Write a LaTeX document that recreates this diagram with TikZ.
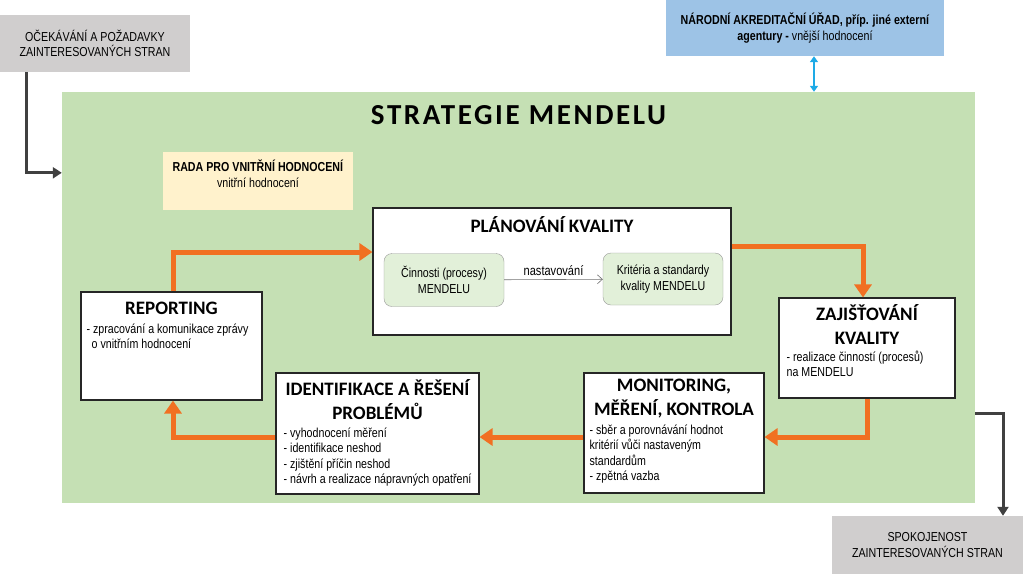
\documentclass[tikz,border=0pt]{standalone}
\usepackage{fontspec}
\setmainfont{Liberation Sans}[FakeStretch=0.82]
\newfontfamily\headfont{Carlito}
\newfontfamily\titlefont{Carlito}[LetterSpace=9]
\usetikzlibrary{arrows.meta, positioning}
\definecolor{boxgrey}{RGB}{208, 206, 206}
\definecolor{naublue}{RGB}{157, 195, 230}
\definecolor{stratgreen}{RGB}{197, 224, 180}
\definecolor{radacream}{RGB}{255, 242, 204}
\definecolor{innergreen}{RGB}{226, 240, 217}
\definecolor{floworange}{RGB}{241, 112, 34}
\definecolor{feedgrey}{RGB}{64, 64, 64}
\definecolor{dualblue}{RGB}{30, 170, 230}
\tikzset{
	outer/.style={fill=boxgrey, minimum width=190pt, minimum height=57pt, align=center, font=\fontsize{13}{15.5}\selectfont},
	stage/.style={draw=black!85, line width=1.1pt, fill=white},
	head/.style={font=\headfont\bfseries\fontsize{19}{24}\selectfont, align=center},
	items/.style={font=\fontsize{13}{15.5}\selectfont, align=left, inner sep=0pt, anchor=north west},
	inner/.style={draw=black!40, fill=innergreen, rounded corners=8pt, minimum width=120pt, minimum height=53pt, align=center, font=\fontsize{13}{15.5}\selectfont},
	flow/.style={draw=floworange, line width=5pt, -{Triangle[length=13pt, width=17pt]}},
	feed/.style={draw=feedgrey, line width=3pt, -{Triangle[length=9pt, width=11pt]}},
	dual/.style={draw=dualblue, line width=2pt, {Triangle[length=6pt, width=8pt]}-{Triangle[length=6pt, width=8pt]}}
}
\begin{document}
\begin{tikzpicture}[x=1pt, y=-1pt]
	\useasboundingbox (0,0) rectangle (1023,574);

	% Frame
	\node (strat) [fill=stratgreen, minimum width=913pt, minimum height=411pt] at (518.5,297.5) {};
	\node (title) [font=\titlefont\bfseries\fontsize{29}{30}\selectfont] at ([yshift=-23pt]strat.north) {STRATEGIE MENDELU};

	% Outside boxes
	\node (expect) [outer] at (95,43.5) {OČEKÁVÁNÍ A POŽADAVKY\\ZAINTERESOVANÝCH STRAN};
	\node (satisf) [outer, minimum width=191pt, minimum height=58pt] at (927.5,545) {SPOKOJENOST\\ZAINTERESOVANÝCH STRAN};
	\node (nau) [outer, fill=naublue, minimum width=278pt, minimum height=56pt] at (805,28)
		{\textbf{NÁRODNÍ AKREDITAČNÍ ÚŘAD, příp. jiné externí}\\\textbf{agentury -} vnější hodnocení};

	% Rada
	\node (rada) [fill=radacream, minimum width=190pt, minimum height=58pt] at (258,181) {};
	\node (radatext) [align=center, font=\fontsize{13}{16.5}\selectfont] at ([yshift=-22pt]rada.north)
		{\textbf{RADA PRO VNITŘNÍ HODNOCENÍ}\\vnitřní hodnocení};

	% Planning
	\node (plan) [stage, minimum width=358pt, minimum height=127pt] at (552,271.5) {};
	\node (planhead) [head] at ([yshift=-17pt]plan.north) {PLÁNOVÁNÍ KVALITY};
	\node (act) [inner] at (444,280) {Činnosti (procesy)\\MENDELU};
	\node (crit) [inner, minimum height=52pt] at (663,279) {Kritéria a standardy\\kvality MENDELU};
	\draw [draw=black!55, line width=0.6pt, -{Straight Barb[length=5pt, width=9pt]}] (act) -- node[above, font=\fontsize{13.5}{14}\selectfont] {nastavování} (crit);

	% Reporting
	\node (report) [stage, minimum width=181pt, minimum height=108pt] at (171.5,346) {};
	\node (reporthead) [head] at ([yshift=-17pt]report.north) {REPORTING};
	\node (reportitems) [items] at ([xshift=6pt, yshift=-32pt]report.north west)
		{- zpracování a komunikace zprávy\\\hspace{5pt}o vnitřním hodnocení};

	% Assurance
	\node (assure) [stage, minimum width=176pt, minimum height=100pt] at (867,348) {};
	\node (assurehead) [head] at ([yshift=-27pt]assure.north) {ZAJIŠŤOVÁNÍ\\KVALITY};
	\node (assureitems) [items] at ([xshift=8pt, yshift=-53pt]assure.north west)
		{- realizace činností (procesů)\\na MENDELU};

	% Monitoring
	\node (monit) [stage, minimum width=180pt, minimum height=120pt] at (674,433) {};
	\node (monithead) [head] at ([yshift=-26pt]monit.north) {MONITORING,\\MĚŘENÍ, KONTROLA};
	\node (monititems) [items] at ([xshift=6pt, yshift=-52pt]monit.north west)
		{- sběr a porovnávání hodnot\\kritérií vůči nastaveným\\standardům\\- zpětná vazba};

	% Identification
	\node (ident) [stage, minimum width=203pt, minimum height=121pt] at (377.5,433.5) {};
	\node (identhead) [head] at ([yshift=-27pt]ident.north) {IDENTIFIKACE A ŘEŠENÍ\\PROBLÉMŮ};
	\node (identitems) [items] at ([xshift=8pt, yshift=-55pt]ident.north west)
		{- vyhodnocení měření\\- identifikace neshod\\- zjištění příčin neshod\\- návrh a realizace nápravných opatření};

	% Cycle
	\draw [flow] ([xshift=1.5pt]report.north) |- ([yshift=19.5pt]plan.west);
	\draw [flow] ([yshift=25.5pt]plan.east) -| ([xshift=-4pt]assure.north);
	\draw [flow] (assure.south) |- ([yshift=-4pt]monit.east);
	\draw [flow] ([yshift=-4pt]monit.west) -- ([yshift=-3.5pt]ident.east);
	\draw [flow] ([yshift=-3.5pt]ident.west) -| ([xshift=1.5pt]report.south);

	% In and out
	\draw [feed] ([xshift=27pt]expect.south west) |- ([yshift=-81pt]strat.north west);
	\draw [feed] ([yshift=-115.5pt]strat.east) -| ([xshift=75.5pt]satisf.north);
	\draw [dual] ([xshift=9pt]nau.south) -- ([xshift=9pt]nau.south |- strat.north);
\end{tikzpicture}
\end{document}
